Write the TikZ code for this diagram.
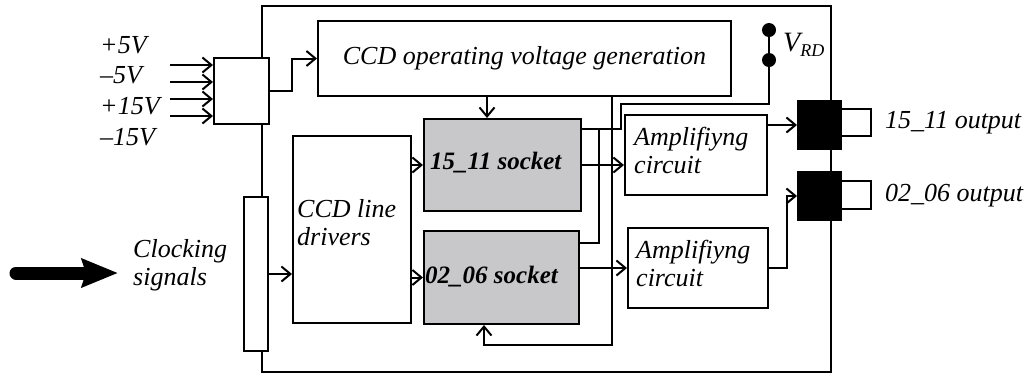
\documentclass[tikz,border=0pt]{standalone}
\usepackage{fontspec}
\setmainfont{Liberation Serif}
\usetikzlibrary{arrows.meta}
\definecolor{sockgray}{RGB}{200,200,203}
\begin{document}
\begin{tikzpicture}[x=1pt,y=-1pt,
  txt/.style={font=\fontsize{26}{28}\selectfont\itshape, inner sep=0pt},
  sock/.style={font=\fontsize{25}{28}\selectfont\bfseries\itshape, inner sep=0pt},
  box/.style={draw, line width=2pt, inner sep=0pt, anchor=north west},
  blk/.style={box, fill=black},
  wire/.style={line width=2pt},
  arr/.style={wire, -{Straight Barb[length=9pt,width=15pt]}},
  vdot/.style={circle, fill=black, minimum size=14pt, inner sep=0pt}]
\useasboundingbox[fill=white] (0,0) rectangle (1028,376);

% boxes
\node[box, minimum width=55pt, minimum height=66pt] (power) at (213,57) {};
\node[box, minimum width=24pt, minimum height=154pt] (clk) at (243,196) {};
\node[box, txt, minimum width=413pt, minimum height=75pt] (gen) at (317,20) {CCD operating voltage generation};
\node[box, minimum width=118pt, minimum height=187pt] (drv) at (292,135) {};
\node[txt, anchor=north west, align=left] (drvt) at (297,199) {CCD line\\drivers};
\node[box, fill=sockgray, minimum width=157pt, minimum height=92pt] (s1) at (423,118) {};
\node[box, fill=sockgray, minimum width=155pt, minimum height=93pt] (s2) at (423,230) {};
\node[sock, anchor=west] (s1t) at (430,163) {15\_11 socket};
\node[sock, anchor=west] (s2t) at (425,277) {02\_06 socket};
\node[box, minimum width=142pt, minimum height=80pt] (amp1) at (624,114) {};
\node[box, minimum width=140pt, minimum height=80pt] (amp2) at (627,227) {};
\node[txt, anchor=west, align=left] (a1t) at (634,150) {Amplifiyng\\circuit};
\node[txt, anchor=west, align=left] (a2t) at (636,263) {Amplifiyng\\circuit};
\node[vdot] (v1) at (769,30) {};
\node[vdot] (v2) at (769,60) {};
\node[txt, anchor=west] (vrd) at (783,45) {\fontsize{28}{28}\selectfont V\raisebox{-5pt}{\fontsize{18}{18}\selectfont RD}};

% left labels
\node[txt, anchor=west] (p5) at (100,45) {+5V};
\node[txt, anchor=west] (m5) at (100,75) {–5V};
\node[txt, anchor=west] (p15) at (100,106) {+15V};
\node[txt, anchor=west] (m15) at (100,137) {–15V};
\node[txt, anchor=west, align=left] (clkt) at (133,265) {Clocking\\signals};

% free ends
\coordinate (in1) at (170,65);
\coordinate (in2) at (170,82);
\coordinate (in3) at (170,99);
\coordinate (in4) at (170,116);
\coordinate (fTR) at (831,6);
\coordinate (fBR) at (831,372);
\coordinate (bigS) at (16,273);
\coordinate (bigE) at (118,273);

% frame
\draw[wire] ([xshift=20.5pt]power.north) |- (fTR) -- (fBR) -| ([xshift=6pt]clk.south);
\draw[wire] ([xshift=20.5pt]power.south) -- ([xshift=20.5pt]power.south |- clk.north);

% output boxes
\node[box, minimum width=30pt, minimum height=27pt] (ob1) at (840,108) {};
\node[box, minimum width=30pt, minimum height=28pt] (ob2) at (840,180) {};
\node[blk, minimum width=43pt, minimum height=48pt] (bb1) at (797,100) {};
\node[blk, minimum width=43pt, minimum height=48pt] (bb2) at (797,171) {};
\node[txt, anchor=west] (o1) at (885,123) {15\_11 output};
\node[txt, anchor=west] (o2) at (885,196) {02\_06 output};

% connectors
\foreach \i in {1,2,3,4} \draw[arr] (in\i) -- (in\i -| power.west);
\draw[arr] (power.east) -- ++(22,0) |- (gen.west);
\draw[arr] ([xshift=-15.5pt]s1.north |- gen.south) -- ([xshift=-15.5pt]s1.north);
\draw[arr] (clk.east) -- (clk.east -| drv.west);
\draw[arr] (s1.west -| drv.east) -- (s1.west);
\draw[arr] (s2.west -| drv.east) -- (s2.west);
\draw[arr] (s1.east) -- (s1.east -| amp1.west);
\draw[arr] (amp2.west -| s2.east) -- (amp2.west);
\draw[arr] (bb1.west -| amp1.east) -- (bb1.west);
\draw[arr] (amp2.east) -- ++(18,0) |- (bb2.west);
\draw[arr] ([xshift=87.5pt]gen.south) -- ++(0,248) -| ([xshift=-17.5pt]s2.south);
\draw[wire] ([yshift=36pt]s1.east) -- ++(39,0) -- ++(0,-25) -| (v2.south);
\draw[wire] ([yshift=35pt]s2.east) -| ([xshift=17pt,yshift=36pt]s1.east);
\draw[wire] (v1) -- (v2);

% big clocking arrow
\draw[line width=13pt, line cap=round, -{Stealth[length=36pt,width=28pt,inset=4pt]}] (bigS) -- (bigE);
\end{tikzpicture}
\end{document}
